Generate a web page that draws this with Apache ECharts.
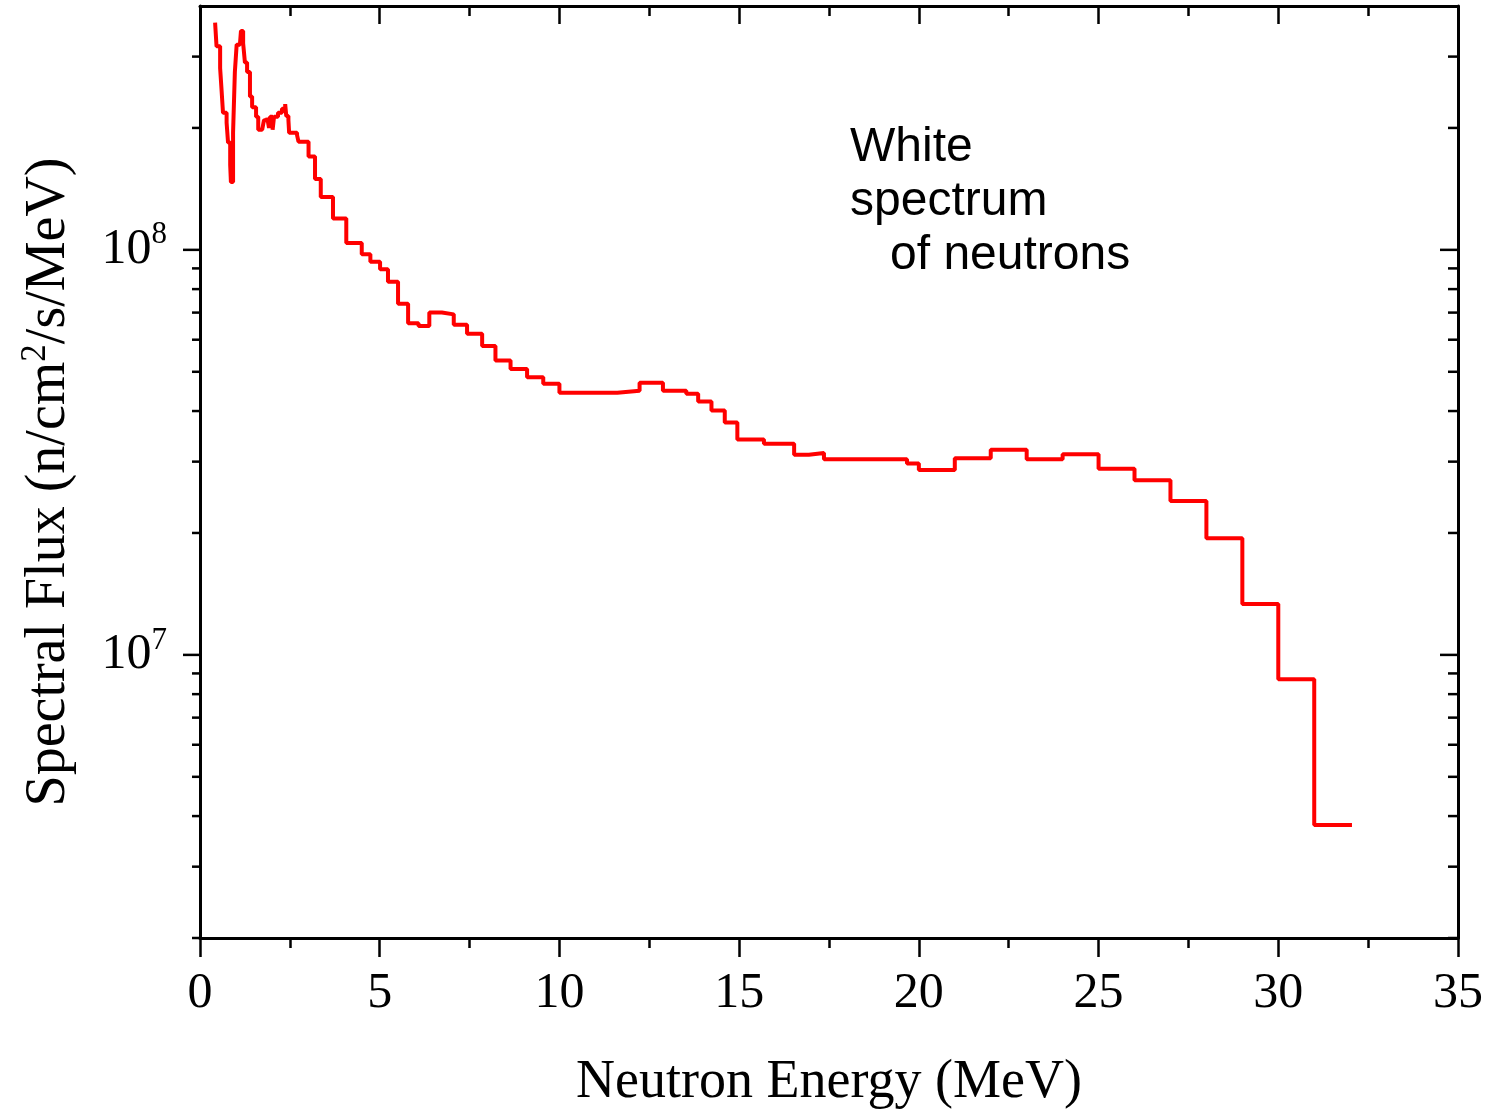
<!DOCTYPE html>
<html>
<head>
<meta charset="utf-8">
<script src="https://cdn.jsdelivr.net/npm/echarts@6.0.0/dist/echarts.min.js"></script>
<style>
html,body{margin:0;padding:0;background:#fff;}
#chart{width:1488px;height:1113px;}
</style>
</head>
<body>
<div id="chart"></div>
<script>
// ---- Data ----
// Bin edges in MeV (one more than flux values); flux[i] holds on [energyEdges[i], energyEdges[i+1]]
const energyEdges = [
  0.42, 0.46, 0.56, 0.60, 0.64, 0.74, 0.78, 0.84, 0.86, 0.92,
  0.97, 1.02, 1.11, 1.14, 1.20, 1.25, 1.31, 1.39, 1.45, 1.56,
  1.62, 1.73, 1.78, 1.87, 1.92, 1.95, 2.02, 2.06, 2.17, 2.28,
  2.37, 2.40, 2.46, 2.48, 2.70, 2.74, 3.02, 3.20, 3.36, 3.70,
  4.07, 4.50, 4.74, 5.01, 5.23, 5.51, 5.79, 6.08, 6.38, 6.73,
  7.06, 7.43, 7.85, 8.22, 8.64, 9.10, 9.55, 10.0, 11.61, 12.23,
  12.88, 13.53, 13.86, 14.23, 14.60, 14.95, 15.69, 16.53, 16.94, 17.36,
  19.67, 20.0, 21.0, 22.0, 23.0, 24.0, 25.0, 26.0, 27.0, 28.0,
  29.0, 30.0, 31.0, 32.05
];
const flux = [
  3.64e8, 3.18e8, 2.81e8, 2.48e8, 2.18e8, 2.06e8, 1.84e8, 1.62e8, 1.47e8, 1.95e8,
  2.75e8, 3.21e8, 3.24e8, 3.47e8, 3.24e8, 2.90e8, 2.75e8, 2.39e8, 2.25e8, 2.13e8,
  1.98e8, 1.97e8, 2.09e8, 2.12e8, 2.00e8, 2.13e8, 1.98e8, 2.13e8, 2.18e8, 2.23e8,
  2.29e8, 2.14e8, 2.09e8, 1.945e8, 1.92e8, 1.85e8, 1.70e8, 1.495e8, 1.35e8, 1.195e8,
  1.04e8, 9.75e7, 9.35e7, 8.96e7, 8.34e7, 7.36e7, 6.59e7, 6.49e7, 7.00e7, 6.93e7,
  6.53e7, 6.21e7, 5.79e7, 5.33e7, 5.08e7, 4.85e7, 4.67e7, 4.44e7, 4.49e7, 4.70e7,
  4.49e7, 4.41e7, 4.22e7, 4.01e7, 3.75e7, 3.40e7, 3.32e7, 3.12e7, 3.15e7, 3.04e7,
  2.97e7, 2.86e7, 3.06e7, 3.21e7, 3.04e7, 3.13e7, 2.88e7, 2.70e7, 2.40e7, 1.94e7,
  1.336e7, 8.71e6, 3.80e6
];

// Axes
const xMin = 0, xMax = 35, xInterval = 5;
const yMin = 2e6, yMax = 4e8;
const yMajorTicks = [1e7, 1e8];
const yMinorTicks = [2e6, 3e6, 4e6, 5e6, 6e6, 7e6, 8e6, 9e6,
                     2e7, 3e7, 4e7, 5e7, 6e7, 7e7, 8e7, 9e7,
                     2e8, 3e8];

// Text
const xAxisTitle = 'Neutron Energy (MeV)';
const yAxisTitleParts = ['Spectral Flux (n/cm', '2', '/s/MeV)'];
const annotationText = 'White\nspectrum\n   of neutrons';

// ---- Build ----
const stepData = [];
for (let i = 0; i < flux.length; i++) stepData.push([energyEdges[i], flux[i]]);
stepData.push([energyEdges[flux.length], flux[flux.length - 1]]);

function tickRenderer(lenLeft, lenRight) {
  return function (params, api) {
    const v = api.value(1);
    const pL = api.coord([xMin, v]);
    const pR = api.coord([xMax, v]);
    const st = { stroke: '#000', lineWidth: 2.5 };
    return {
      type: 'group',
      children: [
        { type: 'line', shape: { x1: pL[0] - lenLeft, y1: pL[1], x2: pL[0], y2: pL[1] }, style: st },
        { type: 'line', shape: { x1: pR[0] - lenRight, y1: pR[1], x2: pR[0], y2: pR[1] }, style: st }
      ]
    };
  };
}

const serif = '"Liberation Serif", "Times New Roman", serif';
const sans = '"Liberation Sans", Arial, sans-serif';

const chart = echarts.init(document.getElementById('chart'), null, { renderer: 'canvas' });
chart.setOption({
  animation: false,
  backgroundColor: '#fff',
  grid: { left: 200, right: 30, top: 6, bottom: 175, containLabel: false, outerBoundsMode: 'none' },
  xAxis: [
    {
      type: 'value', min: xMin, max: xMax, interval: xInterval, position: 'bottom',
      axisLine: { show: true, onZero: false, lineStyle: { color: '#000', width: 3 } },
      axisTick: { show: true, inside: false, length: 19, lineStyle: { color: '#000', width: 2.5 } },
      minorTick: { show: true, splitNumber: 2, length: 10, lineStyle: { color: '#000', width: 2.5 } },
      splitLine: { show: false },
      axisLabel: { margin: 31, fontFamily: serif, fontSize: 50, color: '#000' },
      name: xAxisTitle, nameLocation: 'middle', nameGap: 118,
      nameTextStyle: { fontFamily: serif, fontSize: 54, color: '#000' }
    },
    {
      type: 'value', min: xMin, max: xMax, interval: xInterval, position: 'top',
      axisLine: { show: true, onZero: false, lineStyle: { color: '#000', width: 3 } },
      axisTick: { show: true, inside: true, length: 18, lineStyle: { color: '#000', width: 2.5 } },
      minorTick: { show: true, splitNumber: 2, length: 10, lineStyle: { color: '#000', width: 2.5 } },
      splitLine: { show: false },
      axisLabel: { show: false }
    }
  ],
  yAxis: [
    {
      type: 'log', logBase: 10, min: yMin, max: yMax, position: 'left',
      axisLine: { show: true, onZero: false, lineStyle: { color: '#000', width: 3 } },
      axisTick: { show: false }, minorTick: { show: false },
      splitLine: { show: false }, minorSplitLine: { show: false },
      axisLabel: {
        margin: 33,
        formatter: function (v) {
          const e = Math.log10(v);
          const r = Math.round(e);
          if (Math.abs(e - r) > 1e-6) return '';
          return '{b|10}{s|' + r + '}';
        },
        rich: {
          b: { fontFamily: serif, fontSize: 50, color: '#000', lineHeight: 60 },
          s: { fontFamily: serif, fontSize: 31, color: '#000', lineHeight: 24, verticalAlign: 'top' }
        }
      },
      name: '{a|' + yAxisTitleParts[0] + '}{s|' + yAxisTitleParts[1] + '}{a|' + yAxisTitleParts[2] + '}',
      nameLocation: 'middle', nameGap: 120,
      nameTextStyle: {
        padding: [0, 20, 0, 0],
        rich: {
          a: { fontFamily: serif, fontSize: 56, color: '#000', lineHeight: 62 },
          s: { fontFamily: serif, fontSize: 35, color: '#000', lineHeight: 30, verticalAlign: 'top' }
        }
      }
    },
    {
      type: 'log', logBase: 10, min: yMin, max: yMax, position: 'right',
      axisLine: { show: true, onZero: false, lineStyle: { color: '#000', width: 3 } },
      axisTick: { show: false }, minorTick: { show: false },
      splitLine: { show: false }, axisLabel: { show: false }
    }
  ],
  series: [
    {
      type: 'line', step: 'end', data: stepData, xAxisIndex: 0, yAxisIndex: 0,
      showSymbol: false, symbol: 'none', z: 5,
      lineStyle: { color: '#ff0000', width: 4 }
    },
    {
      type: 'custom', coordinateSystem: 'cartesian2d', xAxisIndex: 0, yAxisIndex: 0,
      data: yMajorTicks.map(v => [xMin, v]), renderItem: tickRenderer(17, 18),
      silent: true, clip: false, z: 6
    },
    {
      type: 'custom', coordinateSystem: 'cartesian2d', xAxisIndex: 0, yAxisIndex: 0,
      data: yMinorTicks.map(v => [xMin, v]), renderItem: tickRenderer(8, 10),
      silent: true, clip: false, z: 6
    }
  ],
  graphic: [
    {
      type: 'text', left: 850, top: 121, silent: true,
      style: { text: annotationText, fontFamily: sans, fontSize: 48, lineHeight: 54, fill: '#000' }
    }
  ]
});
</script>
</body>
</html>
